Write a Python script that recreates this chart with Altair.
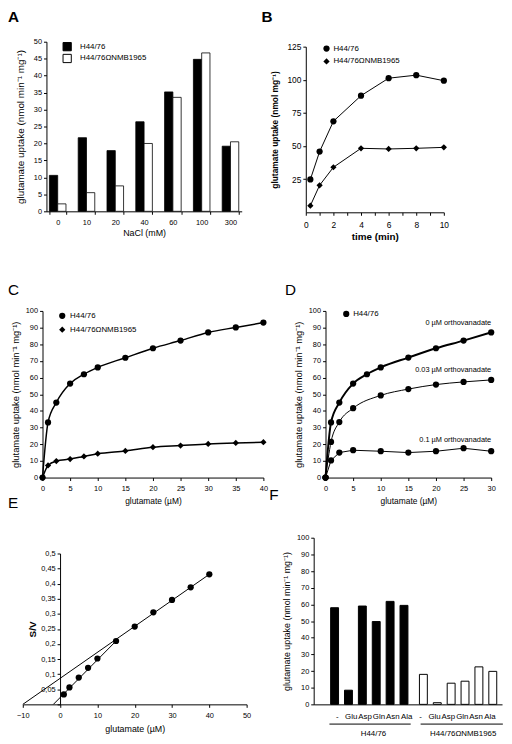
import altair as alt
import pandas as pd

# ---------------- data ----------------
strains = ["H44/76", "H44/76ΩNMB1965"]

nacl = ["0", "10", "20", "40", "60", "100", "300"]
a_wt = [10.6, 21.7, 17.9, 26.4, 35.2, 44.8, 19.2]
a_mut = [2.2, 5.5, 7.5, 20.0, 33.6, 46.7, 20.5]

b_time = [0.33, 1, 2, 4, 6, 8, 10]
b_wt = [24.8, 45.8, 68.7, 88.0, 101.2, 103.5, 99.3]
b_mut = [5.0, 20.4, 34.0, 48.3, 47.8, 48.3, 49.0]

c_glu = [0, 1, 2.5, 5, 7.5, 10, 15, 20, 25, 30, 35, 40]
c_wt = [0, 33.1, 45.0, 56.4, 62.0, 66.1, 71.9, 77.6, 82.2, 87.1, 90.1, 93.0]
c_mut = [0, 7.3, 9.9, 11.1, 12.7, 14.3, 16.0, 18.2, 19.2, 20.2, 20.8, 21.2]

d_glu0 = [0, 1, 2.5, 5, 7.5, 10, 15, 20, 25, 30]
d_v0 = [0, 33.1, 45.0, 56.4, 62.0, 66.1, 72.0, 77.6, 82.2, 87.1]
d_glu = [0, 1, 2.5, 5, 10, 15, 20, 25, 30]
d_v003 = [0, 21.4, 33.3, 41.6, 49.3, 53.1, 55.8, 57.4, 58.6]
d_v01 = [0, 10.3, 15.0, 16.4, 15.8, 15.0, 15.8, 17.6, 15.8]
d_labels = ["0 µM orthovanadate", "0.03 µM orthovanadate", "0.1 µM orthovanadate"]
d_label_x = [30, 30, 30]
d_label_y = [92.5, 64.7, 22.4]

e_glu = [1, 2.5, 5, 7.5, 10, 15, 20, 25, 30, 35, 40]
e_sv = [0.033, 0.056, 0.089, 0.121, 0.152, 0.21, 0.258, 0.305, 0.346, 0.388, 0.431]
e_fit_x = [-10, 40, -1.8, 15]
e_fit_y = [0, 0.431, 0, 0.21]
e_fit_id = ["high", "high", "low", "low"]

aa = ["-", "Glu", "Asp", "Gln", "Asn", "Ala"]
f_wt = [58.0, 8.5, 59.0, 49.7, 61.8, 59.4]
f_mut = [18.0, 1.0, 12.7, 13.9, 22.5, 19.8]

# ---------------- style ----------------
SANS = "Liberation Sans, Arial, sans-serif"
NARROW = "Liberation Sans Narrow, Liberation Sans, Arial, sans-serif"
YT = "glutamate uptake (nmol  min⁻¹ mg⁻¹)"


def letter(t, dx, offset, bold=False):
    return alt.TitleParams(t, anchor="start", frame="group", dx=dx, offset=offset,
                           baseline="alphabetic", fontSize=15.5, font=SANS,
                           fontWeight="bold" if bold else "normal", color="black")


# ---------------- A ----------------
dfA = pd.DataFrame({"nacl": nacl * 2,
                    "strain": [strains[0]] * len(nacl) + [strains[1]] * len(nacl),
                    "v": a_wt + a_mut})
xA = alt.X("nacl:N", sort=nacl,
           scale=alt.Scale(range=[4, 202], paddingInner=0.42, paddingOuter=0.1),
           axis=alt.Axis(title="NaCl (mM)", labelAngle=0, offset=-40, tickBand="extent",
                         titleFontSize=9, titlePadding=3, labelPadding=4))
yA = alt.Y("v:Q", scale=alt.Scale(domain=[0, 50], range=[172, 0], nice=False),
           axis=alt.Axis(values=list(range(0, 51, 5)), offset=-4, title=YT,
                         titleFontSize=10, titlePadding=8))
fillA = alt.Fill("strain:N", sort=strains,
                 scale=alt.Scale(domain=strains, range=["black", "white"]),
                 legend=alt.Legend(title=None, orient="none", legendX=20, legendY=0,
                                   symbolType="square", symbolSize=70,
                                   symbolStrokeColor="black", symbolStrokeWidth=1,
                                   labelOffset=8, rowPadding=-3.5, labelFontSize=8))
baseA = alt.Chart(dfA).encode(x=xA, y=yA, fill=fillA)
barA1 = baseA.transform_filter(alt.datum.strain == strains[0]).mark_bar(
    width=8.4, xOffset=-4.2, stroke="black", strokeWidth=0.8)
barA2 = baseA.transform_filter(alt.datum.strain == strains[1]).mark_bar(
    width=8.4, xOffset=4.2, stroke="black", strokeWidth=0.8)
A = alt.layer(barA1, barA2).properties(width=202, height=212, title=letter("A", -35, 1, True))

# ---------------- B ----------------
dfB = pd.DataFrame({"t": b_time * 2, "v": b_wt + b_mut,
                    "strain": [strains[0]] * len(b_time) + [strains[1]] * len(b_time)})
xB = alt.X("t:Q", scale=alt.Scale(domain=[0, 10], nice=False),
           axis=alt.Axis(values=list(range(0, 11)), offset=-39, title="time (min)",
                         labelExpr="datum.value % 2 == 0 ? datum.label : ''",
                         titleFontWeight="bold", titleFontSize=10, titlePadding=3,
                         labelFontSize=8.5, labelPadding=5))
yB = alt.Y("v:Q", scale=alt.Scale(domain=[0, 125], range=[173, 5], nice=False),
           axis=alt.Axis(values=[25, 50, 75, 100, 125], title="glutamate uptake (nmol  mg⁻¹)",
                         titleFontWeight="bold", titleFontSize=8.5, titlePadding=8,
                         labelFontSize=8.5))
linesB = alt.Chart(dfB).mark_line(color="black", strokeWidth=1).encode(x=xB, y=yB, detail="strain:N")
ptsB = alt.Chart(dfB).mark_point(filled=True, color="black", opacity=1, size=40).encode(
    x=xB, y=yB,
    shape=alt.Shape("strain:N", sort=strains,
                    scale=alt.Scale(domain=strains, range=["circle", "diamond"]),
                    legend=alt.Legend(title=None, orient="none", legendX=17, legendY=3,
                                      symbolSize=40, symbolFillColor="black",
                                      labelOffset=3, rowPadding=-1, labelFontSize=8)))
B = alt.layer(linesB, ptsB).properties(width=140, height=212, title=letter("B", -45, 4, True))

# ---------------- C ----------------
dfC = pd.DataFrame({"g": c_glu * 2, "v": c_wt + c_mut,
                    "strain": [strains[0]] * len(c_glu) + [strains[1]] * len(c_glu)})
xC = alt.X("g:Q", scale=alt.Scale(domain=[0, 40], nice=False),
           axis=alt.Axis(values=list(range(0, 41, 5)), title="glutamate (µM)",
                         labelPadding=4, titlePadding=5, titleFontSize=8.5))
yC = alt.Y("v:Q", scale=alt.Scale(domain=[0, 100], nice=False),
           axis=alt.Axis(values=list(range(0, 101, 10)), title=YT, titleFontSize=9.5,
                         titlePadding=5))
linesC = alt.Chart(dfC).mark_line(color="black", strokeWidth=1.5, interpolate="monotone").encode(
    x=xC, y=yC, detail="strain:N")
ptsC = alt.Chart(dfC).mark_point(filled=True, color="black", opacity=1, size=40).encode(
    x=xC, y=yC,
    shape=alt.Shape("strain:N", sort=strains,
                    scale=alt.Scale(domain=strains, range=["circle", "diamond"]),
                    legend=alt.Legend(title=None, orient="none", legendX=16, legendY=1,
                                      symbolSize=40, symbolFillColor="black",
                                      labelOffset=4, rowPadding=0, labelFontSize=8)))
C = alt.layer(linesC, ptsC).properties(width=224, height=169, title=letter("C", -35, -3))

# ---------------- D ----------------
df0 = pd.DataFrame({"g": d_glu0, "v": d_v0, "lg": strains[0]})
df003 = pd.DataFrame({"g": d_glu, "v": d_v003, "lg": strains[0]})
df01 = pd.DataFrame({"g": d_glu, "v": d_v01, "lg": strains[0]})
xD = alt.X("g:Q", scale=alt.Scale(domain=[0, 30], range=[20, 188], nice=False),
           axis=alt.Axis(values=list(range(0, 31, 5)), title="glutamate (µM)",
                         labelPadding=4, titlePadding=5, titleFontSize=8.5))
yD = alt.Y("v:Q", scale=alt.Scale(domain=[0, 100], nice=False),
           axis=alt.Axis(values=list(range(0, 101, 10)), title=YT, titleFontSize=9.5,
                         titlePadding=5, offset=-20))
l0 = alt.Chart(df0).mark_line(color="black", strokeWidth=2, interpolate="monotone").encode(x=xD, y=yD)
l003 = alt.Chart(df003).mark_line(color="black", strokeWidth=1, interpolate="monotone").encode(x=xD, y=yD)
l01 = alt.Chart(df01).mark_line(color="black", strokeWidth=1).encode(x=xD, y=yD)
shapeD = alt.Shape("lg:N", scale=alt.Scale(domain=[strains[0]], range=["circle"]),
                   legend=alt.Legend(title=None, orient="none", legendX=37, legendY=-1,
                                     symbolSize=40, symbolFillColor="black",
                                     labelOffset=3, labelFontSize=8))
p0 = alt.Chart(df0).mark_point(filled=True, color="black", opacity=1, size=40).encode(x=xD, y=yD, shape=shapeD)
p003 = alt.Chart(df003).mark_point(filled=True, color="black", opacity=1, size=40).encode(x=xD, y=yD, shape=shapeD)
p01 = alt.Chart(df01).mark_point(filled=True, color="black", opacity=1, size=40).encode(x=xD, y=yD, shape=shapeD)
dfDl = pd.DataFrame({"g": d_label_x, "v": d_label_y, "t": d_labels})
tD = alt.Chart(dfDl).mark_text(align="right", baseline="middle", font=NARROW, fontSize=7.5,
                               color="black").encode(x=xD, y=yD, text="t:N")
D = alt.layer(l0, l003, l01, p0, p003, p01, tD).properties(
    width=188, height=169, title=letter("D", -21, -3))

# ---------------- E ----------------
dfE = pd.DataFrame({"g": e_glu, "sv": e_sv})
dfEf = pd.DataFrame({"g": e_fit_x, "sv": e_fit_y, "id": e_fit_id})
xE = alt.X("g:Q", scale=alt.Scale(domain=[-10, 50], range=[-20, 207], nice=False),
           axis=alt.Axis(values=list(range(-10, 51, 10)), title="glutamate (µM)",
                         labelPadding=4, titlePadding=6, titleFontSize=9))
yE = alt.Y("sv:Q", scale=alt.Scale(domain=[0, 0.5], range=[169, 16], nice=False),
           axis=alt.Axis(values=[round(0.05 * i, 2) for i in range(11)], offset=-17.8,
                         labelExpr="datum.value == 0 ? '' : replace(format(datum.value, '.2~f'), '.', ',')",
                         title="S/V", titleFontWeight="bold", titleFontSize=10, titlePadding=3))
fitE = alt.Chart(dfEf).mark_line(color="black", strokeWidth=1).encode(x=xE, y=yE, detail="id:N")
ptsE = alt.Chart(dfE).mark_point(filled=True, color="black", opacity=1, size=40, shape="circle").encode(x=xE, y=yE)
E = alt.layer(fitE, ptsE).properties(width=207, height=169, title=letter("E", -35, 15))

# ---------------- F ----------------
f_keys = [g + "|" + a for g in strains for a in aa]
dfF = pd.DataFrame({"key": f_keys,
                    "grp": [strains[0]] * len(aa) + [strains[1]] * len(aa),
                    "v": f_wt + f_mut})
dfFg = pd.DataFrame({"grp": strains,
                     "k1": [g + "|" + aa[0] for g in strains],
                     "k2": [g + "|" + aa[-1] for g in strains],
                     "kc": [g + "|" + aa[2] for g in strains]})
scF = alt.Scale(domain=f_keys, range=[8, 199], paddingInner=0.43, paddingOuter=1, align=0.71)
xF = alt.X("key:N", sort=f_keys, scale=scF,
           axis=alt.Axis(labelExpr="split(datum.label, '|')[1]", ticks=False, tickSize=0,
                         labelAngle=0, labelFont=NARROW, labelFontSize=8, labelPadding=8,
                         title=None))
yF = alt.Y("v:Q", stack=None, scale=alt.Scale(domain=[0, 100], nice=False),
           axis=alt.Axis(values=list(range(0, 101, 10)), title=YT, titleFontSize=9,
                         titlePadding=5, offset=-8, labels=True, ticks=True, tickSize=3,
                         labelExpr="datum.label", labelOverlap=False, labelBound=False,
                         labelOpacity=1, labelColor="black", labelFont=NARROW,
                         labelFontSize=7.5, labelPadding=2, labelAngle=0))
fillF = alt.Fill("grp:N", scale=alt.Scale(domain=strains, range=["black", "white"]), legend=None)
barsF1 = alt.Chart(dfF).transform_filter(alt.datum.grp == strains[0]).mark_bar(
    stroke="black", strokeWidth=1, xOffset=-2.8).encode(x=xF, y=yF, fill=fillF)
barsF2 = alt.Chart(dfF).transform_filter(alt.datum.grp == strains[1]).mark_bar(
    stroke="black", strokeWidth=1, xOffset=2.8).encode(x=xF, y=yF, fill=fillF)
ulF1 = alt.Chart(dfFg).transform_filter(alt.datum.grp == strains[0]).mark_rule(
    color="black", strokeWidth=1, xOffset=-4, x2Offset=0).encode(
    x=alt.X("k1:N", bandPosition=0, scale=scF), x2=alt.X2("k2:N", bandPosition=1),
    y=alt.value(189))
ulF2 = alt.Chart(dfFg).transform_filter(alt.datum.grp == strains[1]).mark_rule(
    color="black", strokeWidth=1, xOffset=4, x2Offset=9).encode(
    x=alt.X("k1:N", bandPosition=0, scale=scF), x2=alt.X2("k2:N", bandPosition=1),
    y=alt.value(189))
glF1 = alt.Chart(dfFg).transform_filter(alt.datum.grp == strains[0]).mark_text(
    font=SANS, fontSize=8, baseline="middle", color="black", dx=4.5).encode(
    x=alt.X("kc:N", bandPosition=1, scale=scF), y=alt.value(199.5), text="grp:N")
glF2 = alt.Chart(dfFg).transform_filter(alt.datum.grp == strains[1]).mark_text(
    font=SANS, fontSize=8, baseline="middle", color="black", dx=11).encode(
    x=alt.X("kc:N", bandPosition=1, scale=scF), y=alt.value(199.5), text="grp:N")
F = alt.layer(barsF1, barsF2, ulF1, ulF2, glF1, glF2).properties(
    width=199, height=169, title=letter("F", -37, 19))

chart = alt.concat(A, B, C, D, E, F, columns=2, spacing={"row": 61, "column": 43},
                   bounds="flush", align="each").resolve_scale(
    fill="independent", shape="independent"
).properties(padding={"left": 0, "top": -4, "right": 0, "bottom": 0}).configure_view(
    stroke=None
).configure_axis(
    domainColor="black", tickColor="black", labelColor="black", titleColor="black",
    grid=False, tickSize=3, labelPadding=2, domainWidth=1, tickWidth=1,
    labelFont=NARROW, labelFontSize=7.5, titleFont=SANS, titleFontWeight="normal",
    labelFlush=False, labelOverlap=False
).configure_legend(
    labelFont=SANS, labelColor="black", padding=0, offset=0
)

chart.save("out.html", embed_options={"renderer": "svg", "actions": False})
